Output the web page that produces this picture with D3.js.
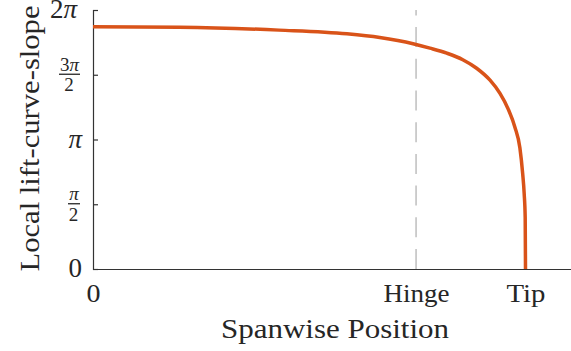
<!DOCTYPE html>
<html>
<head>
<meta charset="utf-8">
<script src="https://cdn.jsdelivr.net/npm/d3@7"></script>
<style>
  html, body { margin: 0; padding: 0; background: #fff; }
  svg { display: block; }
</style>
</head>
<body>
<svg id="chart" width="571" height="351"></svg>
<script>
// Spanwise stations (0 = root, 1 = tip) and the local lift-curve slope there (per rad)
const spanwise = [0, 0.2, 0.43, 0.587, 0.663, 0.74, 0.779, 0.818, 0.855, 0.887, 0.918, 0.941, 0.96, 0.9755, 0.987, 0.9933, 0.997, 0.9993, 1.0];
const slope    = [5.878, 5.867, 5.795, 5.705, 5.615, 5.465, 5.358, 5.236, 5.077, 4.87, 4.58, 4.26, 3.88, 3.44, 2.94, 2.33, 1.82, 1.25, 0];

const hingePos = 0.747;
const xTickValues = [0, hingePos, 1];
const xTickLabels = ["0", "Hinge", "Tip"];
const yTickValues = [0, Math.PI / 2, Math.PI, 3 * Math.PI / 2, 2 * Math.PI];
// each y label: [numerator, denominator] (denominator null for plain labels)
const yTickLabels = [["0", null], ["π", "2"], ["π", null], ["3π", "2"], ["2π", null]];

const FONT = "'Liberation Serif', 'DejaVu Serif', serif";
const INK = "#262626";

const svg = d3.select("#chart");
const x = d3.scaleLinear().domain([0, 1.105]).range([93, 93 + 432.5 * 1.105]);
const y = d3.scaleLinear().domain([0, 2 * Math.PI]).range([269, 10]);

// hinge marker, dashed from the axis upwards
svg.append("line")
  .attr("x1", x(hingePos)).attr("x2", x(hingePos))
  .attr("y1", y(0)).attr("y2", y(2 * Math.PI))
  .attr("stroke", "#c6c6c6").attr("stroke-width", 1.7)
  .attr("stroke-dasharray", "20,11.7");

// y axis: inward ticks, labels drawn separately
const yAxis = svg.append("g")
  .attr("transform", `translate(${x(0)},0)`)
  .call(d3.axisLeft(y).tickValues(yTickValues).tickSize(-5).tickSizeOuter(-5).tickFormat(""));
yAxis.selectAll("path, line").attr("stroke", "#333").attr("stroke-width", 1.2);

// x axis
const xAxis = svg.append("g")
  .attr("transform", `translate(0,${y(0)})`)
  .call(d3.axisBottom(x).tickValues(xTickValues).tickSize(0).tickSizeOuter(0)
    .tickFormat((d, i) => xTickLabels[i]));
xAxis.select(".domain").attr("stroke", "#333").attr("stroke-width", 1.2);
const xLabelWidths = [14, 66, 39];
xAxis.selectAll("text")
  .attr("y", 33).attr("dy", null)
  .attr("fill", INK)
  .style("font-family", FONT)
  .style("font-size", "26px")
  .attr("textLength", (d, i) => xLabelWidths[i])
  .attr("lengthAdjust", "spacingAndGlyphs");

function addGlyphs(t, str) {
  // italic pi, upright digits
  str.split("").forEach(ch => {
    t.append("tspan").text(ch).style("font-style", ch === "π" ? "italic" : "normal");
  });
}

// y tick labels (fractions stacked with a rule)
yTickValues.forEach((v, i) => {
  const [num, den] = yTickLabels[i];
  const yy = y(v);
  if (den === null) {
    const t = svg.append("text")
      .attr("x", num === "2π" ? 77 : 82).attr("y", yy + 8)
      .attr("text-anchor", "end")
      .attr("fill", INK)
      .style("font-family", FONT)
      .style("font-size", "27px");
    addGlyphs(t, num);
  } else {
    const wide = num.length > 1;
    const cx = wide ? 69.5 : 74;
    const half = wide ? 10.5 : 6;
    const n = svg.append("text").attr("x", cx).attr("y", yy - 4)
      .attr("text-anchor", "middle").attr("fill", INK)
      .style("font-family", FONT).style("font-size", "19px");
    addGlyphs(n, num);
    svg.append("text").attr("x", cx - 0.5).attr("y", yy + 16.5)
      .attr("text-anchor", "middle").attr("fill", INK)
      .style("font-family", FONT).style("font-size", "19px").text(den);
    svg.append("line")
      .attr("x1", cx - half).attr("x2", cx + half)
      .attr("y1", yy - 0.5).attr("y2", yy - 0.5)
      .attr("stroke", INK).attr("stroke-width", 1.3);
  }
});

// slope curve
const line = d3.line()
  .x((d, i) => x(spanwise[i]))
  .y(d => y(d))
  .curve(d3.curveMonotoneX);
svg.append("path")
  .datum(slope)
  .attr("d", line)
  .attr("fill", "none")
  .attr("stroke", "#d95319")
  .attr("stroke-width", 3.5)
  .attr("stroke-linejoin", "round");

// axis titles
svg.append("text")
  .attr("x", 335).attr("y", 338)
  .attr("text-anchor", "middle")
  .attr("fill", INK)
  .style("font-family", FONT)
  .style("font-size", "27px")
  .attr("textLength", 228).attr("lengthAdjust", "spacingAndGlyphs")
  .text("Spanwise Position");

svg.append("text")
  .attr("transform", "translate(39,138.5) rotate(-90)")
  .attr("text-anchor", "middle")
  .attr("fill", INK)
  .style("font-family", FONT)
  .style("font-size", "27px")
  .attr("textLength", 266).attr("lengthAdjust", "spacingAndGlyphs")
  .text("Local lift-curve-slope");
</script>
</body>
</html>
